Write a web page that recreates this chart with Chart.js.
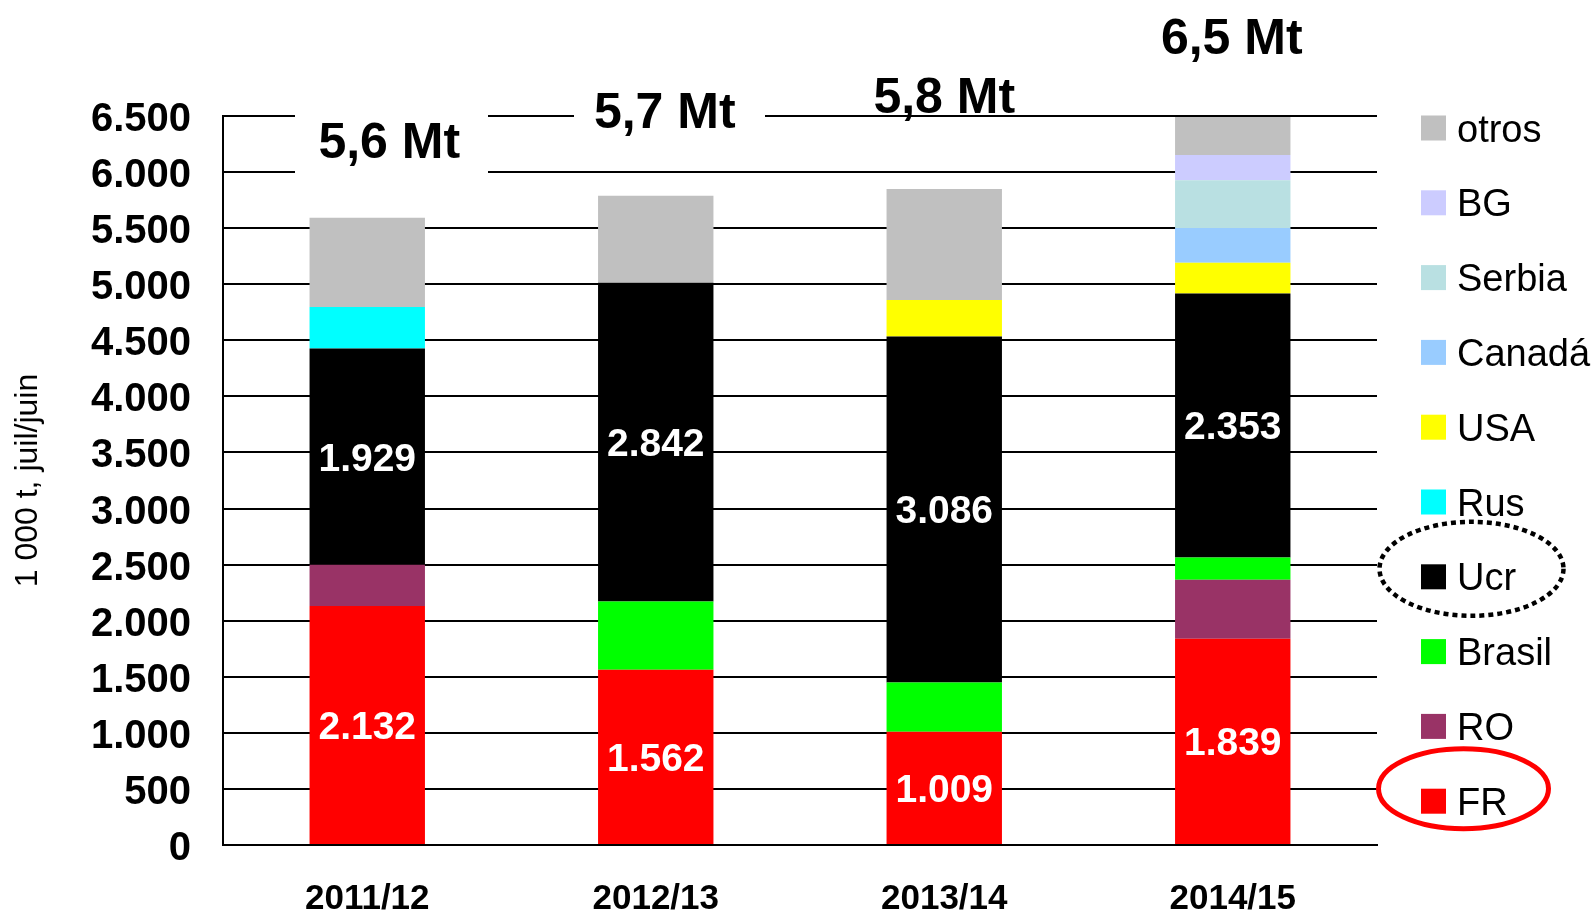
<!DOCTYPE html>
<html>
<head>
<meta charset="utf-8">
<script src="https://cdn.jsdelivr.net/npm/chart.js@4.4.1/dist/chart.umd.min.js"></script>
<style>
  html, body { margin: 0; padding: 0; background: #fff; }
  #wrap { width: 1594px; height: 912px; }
</style>
</head>
<body>
<div id="wrap"><canvas id="chart" width="1594" height="912"></canvas></div>
<script>
// campañas (juil/juin), en 1 000 t
const years = ['2011/12', '2012/13', '2013/14', '2014/15'];

// series, de abajo hacia arriba en la pila
const fr     = [2132, 1562, 1009, 1839];
const ro     = [366, 0, 0, 525];
const brasil = [0, 610, 440, 200];
const ucr    = [1929, 2842, 3086, 2353];
const rus    = [370, 0, 0, 0];
const usa    = [0, 0, 325, 275];
const canada = [0, 0, 0, 310];
const serbia = [0, 0, 0, 425];
const bg     = [0, 0, 0, 225];
const otros  = [795, 775, 990, 340];

const totals = ['5,6 Mt', '5,7 Mt', '5,8 Mt', '6,5 Mt'];
const yTicks = [0, 500, 1000, 1500, 2000, 2500, 3000, 3500, 4000, 4500, 5000, 5500, 6000, 6500];

// series con etiqueta de valor dentro de la barra
const labeledSeries = ['FR', 'Ucr'];

const FONT = '"Liberation Sans", Arial, Helvetica, sans-serif';
Chart.defaults.font.family = FONT;
Chart.defaults.color = '#000';

// 2132 -> "2.132"
function fmt(n) {
    return String(n).replace(/\B(?=(\d{3})+(?!\d))/g, '.');
}

// etiquetas blancas dentro de las barras
const valueLabels = {
    id: 'valueLabels',
    afterDatasetsDraw(chart) {
        const ctx = chart.ctx;
        ctx.save();
        ctx.font = 'bold 39px ' + FONT;
        ctx.fillStyle = '#fff';
        ctx.textAlign = 'center';
        ctx.textBaseline = 'alphabetic';
        chart.data.datasets.forEach((ds, di) => {
            if (!labeledSeries.includes(ds.label)) return;
            chart.getDatasetMeta(di).data.forEach((bar, i) => {
                const v = ds.data[i];
                if (!v) return;
                const cy = (bar.y + bar.base) / 2;
                ctx.fillText(fmt(v), bar.x, cy + 0.358 * 39);
            });
        });
        ctx.restore();
    }
};

// totales "x Mt" encima de las barras (con fondo blanco que tapa la cuadrícula)
const totalLabels = {
    id: 'totalLabels',
    afterDraw(chart) {
        const ctx = chart.ctx;
        const xs = chart.scales.x;
        const place = [
            { dx: 22, base: 158, box: [295, 100, 193, 85] },
            { dx: 9,  base: 128, box: [574, 85, 191, 55] },
            { dx: 0,  base: 113, box: null },
            { dx: -1, base: 54,  box: null }
        ];
        ctx.save();
        ctx.font = 'bold 50px ' + FONT;
        ctx.textAlign = 'center';
        ctx.textBaseline = 'alphabetic';
        totals.forEach((t, i) => {
            const p = place[i];
            if (p.box) {
                ctx.fillStyle = '#fff';
                ctx.fillRect(p.box[0], p.box[1], p.box[2], p.box[3]);
            }
            ctx.fillStyle = '#000';
            ctx.fillText(t, xs.getPixelForValue(i) + p.dx, p.base);
        });
        ctx.restore();
    }
};

// leyenda a la derecha + óvalos que resaltan Ucr y FR
const sideLegend = {
    id: 'sideLegend',
    afterDraw(chart) {
        const ctx = chart.ctx;
        const items = chart.data.datasets.slice().reverse();
        const top = 128, step = 74.8;
        ctx.save();
        ctx.font = '38px ' + FONT;
        ctx.textAlign = 'left';
        ctx.textBaseline = 'alphabetic';
        items.forEach((ds, k) => {
            const cy = top + k * step;
            ctx.fillStyle = ds.backgroundColor;
            ctx.fillRect(1421, cy - 12.5, 25, 25);
            ctx.fillStyle = '#000';
            ctx.fillText(ds.label, 1457, cy + 0.358 * 38);

            if (ds.label === 'Ucr') {
                ctx.save();
                ctx.strokeStyle = '#000';
                ctx.lineWidth = 4.5;
                ctx.setLineDash([5, 4]);
                ctx.beginPath();
                ctx.ellipse(1471.5, cy - 8, 92, 47, 0, 0, Math.PI * 2);
                ctx.stroke();
                ctx.restore();
            }
            if (ds.label === 'FR') {
                ctx.save();
                ctx.strokeStyle = '#f00';
                ctx.lineWidth = 5;
                ctx.beginPath();
                ctx.ellipse(1463.5, cy - 12.5, 85, 40, 0, 0, Math.PI * 2);
                ctx.stroke();
                ctx.restore();
            }
        });
        ctx.restore();
    }
};

new Chart(document.getElementById('chart'), {
    type: 'bar',
    data: {
        labels: years,
        datasets: [
            { label: 'FR',     data: fr,     backgroundColor: '#ff0000' },
            { label: 'RO',     data: ro,     backgroundColor: '#993366' },
            { label: 'Brasil', data: brasil, backgroundColor: '#00ff00' },
            { label: 'Ucr',    data: ucr,    backgroundColor: '#000000' },
            { label: 'Rus',    data: rus,    backgroundColor: '#00ffff' },
            { label: 'USA',    data: usa,    backgroundColor: '#ffff00' },
            { label: 'Canadá', data: canada, backgroundColor: '#99ccff' },
            { label: 'Serbia', data: serbia, backgroundColor: '#b9e0e2' },
            { label: 'BG',     data: bg,     backgroundColor: '#ccccff' },
            { label: 'otros',  data: otros,  backgroundColor: '#c0c0c0' }
        ]
    },
    options: {
        responsive: false,
        animation: false,
        events: [],
        layout: { padding: { top: 116, right: 217, bottom: 0, left: 0 } },
        datasets: {
            bar: { categoryPercentage: 1, barPercentage: 0.4, borderWidth: 0 }
        },
        plugins: {
            legend: { display: false },
            tooltip: { enabled: false }
        },
        scales: {
            x: {
                stacked: true,
                grid: { display: false },
                border: { display: true, color: '#000', width: 2 },
                ticks: {
                    padding: 25,
                    color: '#000',
                    font: { size: 35, weight: 'bold' }
                },
                afterFit: (scale) => { scale.height = 67; }
            },
            y: {
                stacked: true,
                min: 0,
                max: 6500,
                afterBuildTicks: (scale) => { scale.ticks = yTicks.map(v => ({ value: v })); },
                grid: { color: '#000', lineWidth: 2, drawTicks: false },
                border: { display: true, color: '#000', width: 2 },
                ticks: {
                    padding: 32,
                    labelOffset: 4,
                    color: '#000',
                    font: { size: 40, weight: 'bold' },
                    callback: (v) => fmt(v)
                },
                title: {
                    display: true,
                    text: '1 000 t, juil/juin',
                    color: '#000',
                    font: { size: 32, weight: 'normal' },
                    padding: { top: 9, bottom: 0 }
                },
                afterFit: (scale) => { scale.width = 223; }
            }
        }
    },
    plugins: [valueLabels, totalLabels, sideLegend]
});
</script>
</body>
</html>
